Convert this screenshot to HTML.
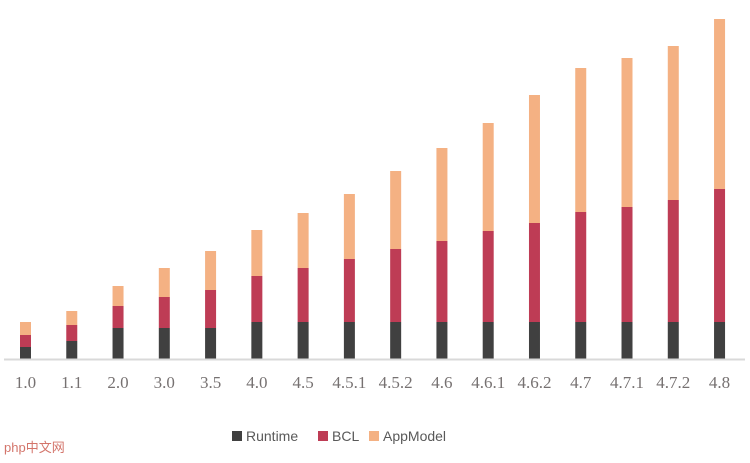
<!DOCTYPE html>
<html><head><meta charset="utf-8"><style>
body{margin:0;background:#fff;width:750px;height:458px;overflow:hidden;font-family:"Liberation Sans",sans-serif}
</style></head><body>
<svg id="chart" width="750" height="458" xmlns="http://www.w3.org/2000/svg"></svg>
<script>
const categories=["1.0","1.1","2.0","3.0","3.5","4.0","4.5","4.5.1","4.5.2","4.6","4.6.1","4.6.2","4.7","4.7.1","4.7.2","4.8"];
const runtime=[12,18,31,31,31,37,37,37,37,37,37,37,37,37,37,37];
const bcl=[12,16,22,31,38,46,54,63,73,81,91,99,110,115,122,133];
const appModel=[13,14,20,29,39,46,55,65,78,93,108,128,144,149,154,170];
const seriesNames=["Runtime","BCL","AppModel"];
const colors=["#404040","#be3c55","#f4b183"];
const NS="http://www.w3.org/2000/svg";
const svg=document.getElementById("chart");
const baseY=359, x0=25.5, step=46.27, barW=11;
function xPos(i){return x0+i*step;}
function yPos(v){return baseY-v;}
function mk(t,a){const e=document.createElementNS(NS,t);for(const k in a)e.setAttribute(k,a[k]);svg.appendChild(e);return e;}
const series=[runtime,bcl,appModel];
categories.forEach((c,i)=>{
  let acc=0;
  series.forEach((s,si)=>{
    const r=mk("rect",{x:xPos(i)-barW/2,y:yPos(acc+s[i]),width:barW,height:s[i],fill:colors[si]});
    
    
    acc+=s[i];
  });
  const t=mk("text",{x:xPos(i),y:388,"text-anchor":"middle","font-family":"Liberation Serif, serif","font-size":"17",fill:"#767171"});
  t.textContent=c;
  
  
});
const ax=mk("line",{x1:4,x2:745,y1:baseY+0.5,y2:baseY+0.5,stroke:"#d9d9d9","stroke-width":2});


const legX=[232,318,369];
seriesNames.forEach((n,i)=>{
  const r=mk("rect",{x:legX[i],y:431,width:10,height:10,fill:colors[i]});
  
  
  const t=mk("text",{x:legX[i]+14,y:441,"font-size":"14",fill:"#595959"});
  t.textContent=n;
  
  
});
const wm=mk("text",{x:4,y:452,"font-size":"13","font-family":"Liberation Sans, Noto Sans CJK SC, sans-serif",fill:"#c0392b","fill-opacity":"0.7"});
wm.textContent="php中文网";


</script>
</body></html>
